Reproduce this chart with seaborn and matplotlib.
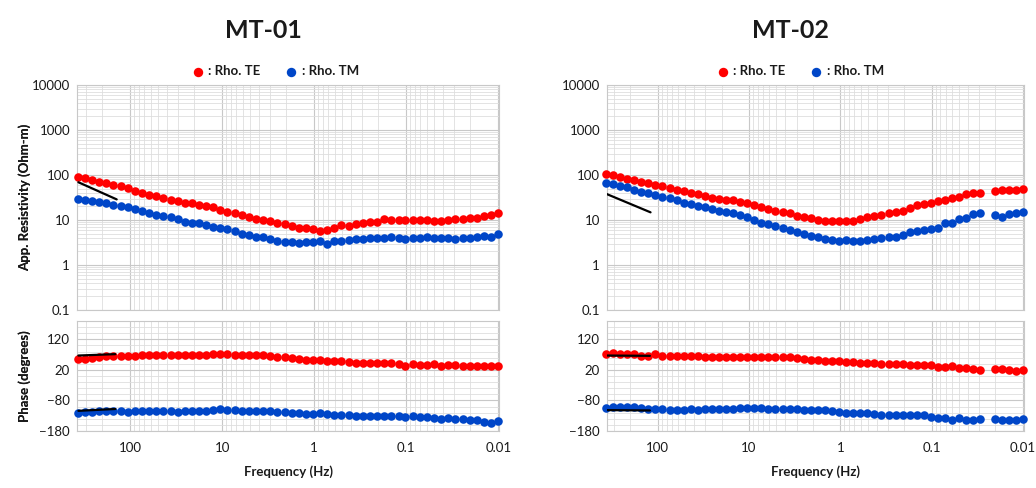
import numpy as np
import pandas as pd
import matplotlib
matplotlib.use("Agg")
import matplotlib.pyplot as plt
import seaborn as sns
from matplotlib.ticker import FixedLocator, LogLocator, NullFormatter, FuncFormatter, MultipleLocator

sns.set_theme(style="white")
plt.rcParams["font.family"] = ["Lato", "DejaVu Sans"]

nan = np.nan

# ---------------- data ----------------
FREQ = [370, 309, 259, 217, 181, 152, 127, 106, 88.8, 74.3,
        62.2, 52.0, 43.6, 36.4, 30.5, 25.5, 21.3, 17.9, 14.9, 12.5,
        10.5, 8.75, 7.32, 6.13, 5.13, 4.29, 3.59, 3.00, 2.51, 2.10,
        1.76, 1.47, 1.23, 1.03, 0.862, 0.722, 0.604, 0.505, 0.423, 0.354,
        0.296, 0.248, 0.207, 0.173, 0.145, 0.121, 0.102, 0.0850, 0.0711, 0.0595,
        0.0498, 0.0417, 0.0348, 0.0292, 0.0244, 0.0204, 0.0171, 0.0143, 0.0120, 0.0100]

TICK_FREQ = [100, 10, 1, 0.1, 0.01]
TICK_RHO = [0.1, 1, 10, 100, 1000, 10000]
TICK_PHASE = [-180, -80, 20, 120]

# MT-01
TE_RHO_1 = [89, 84, 77, 71, 66, 61, 57, 52, 45, 40,
            36, 33.5, 31, 28.5, 26, 24, 23.3, 21.8, 20.5, 19,
            17, 15.2, 14, 12.8, 11.8, 10.7, 10.2, 9.3, 8.6, 8.0,
            7.5, 6.8, 6.6, 6.3, 5.7, 6.1, 6.6, 7.6, 7.5, 8.0,
            8.7, 8.8, 8.9, 10.3, 9.9, 10.0, 9.8, 9.9, 10.1, 9.8,
            9.5, 9.4, 10.0, 10.4, 10.6, 10.8, 11.3, 12.0, 12.6, 14.5]
TM_RHO_1 = [30, 28.5, 27, 25, 23.5, 21.5, 20.3, 19.5, 17.8, 16,
            14.5, 12.8, 12.2, 11.4, 10.6, 9.2, 8.7, 8.4, 7.7, 7.0,
            6.7, 6.2, 5.6, 4.9, 4.6, 4.2, 4.1, 3.7, 3.5, 3.3,
            3.2, 3.1, 3.2, 3.3, 3.4, 3.0, 3.35, 3.4, 3.55, 3.7,
            3.7, 3.9, 4.0, 3.9, 4.2, 4.0, 3.7, 3.9, 3.9, 4.1,
            3.9, 3.9, 3.9, 3.7, 3.9, 4.0, 4.2, 4.4, 4.1, 5.0]
TE_PH_1 = [56, 57, 59.5, 62, 65, 65, 65, 65, 67, 68,
           69, 68, 68, 68, 68, 68, 68, 68, 68, 71.5,
           72.7, 71.5, 68, 69, 69, 68, 68, 65, 63, 63,
           59.5, 56, 54, 54, 54, 50.7, 48.5, 48.5, 46, 43,
           41, 43, 43, 41, 41, 40, 34, 40, 37.5, 37.5,
           40, 34, 37.5, 35, 32, 34, 32, 32, 32, 32]
TM_PH_1 = [-120, -119, -116.5, -114, -113, -113, -114, -116.5, -114, -113,
           -113, -113, -113, -115, -116.5, -113, -113, -113, -113, -111,
           -109, -111, -112, -113, -113, -113, -113, -114, -116.5, -119,
           -120, -122, -124, -124, -122, -125, -127.5, -127.5, -127.5, -130,
           -131, -131, -131, -131, -131, -131, -133, -131, -133, -135,
           -136, -141, -138.5, -141, -142, -144, -144, -149.5, -155, -147]
REF_F_RHO_1 = [365, 140]
REF_RHO_1 = [69, 28.7]
REF_F_PH_1 = [365, 145]
REF_TE_PH_1 = [67, 71.5]
REF_TM_PH_1 = [-114, -108]

# MT-02
TE_RHO_2 = [105, 100, 89, 81, 77, 71, 65, 60, 57, 51,
            46, 43, 39, 37, 35, 30.5, 29, 28, 28, 24.7,
            23.5, 21.5, 19.8, 17.5, 16.1, 14.8, 14.1, 12.5, 11.5, 10.9,
            10.2, 9.7, 9.5, 9.5, 9.5, 9.5, 10.4, 11.5, 12.3, 12.9,
            14.5, 15.3, 16.1, 18.2, 21.5, 22.3, 23.5, 26.4, 27.8, 30.3,
            33, 37, 39, 40.5, nan, 45, 46.4, 46.4, 46.4, 48]
TM_RHO_2 = [65, 62, 58, 53, 46.4, 42.6, 39, 36, 33, 30.3,
            27.8, 23.5, 22.3, 20.8, 19.8, 17.3, 15.8, 14.8, 14.1, 12.9,
            11.5, 10, 8.7, 8.0, 7.4, 6.5, 6.0, 5.5, 4.9, 4.4,
            4.1, 3.7, 3.6, 3.5, 3.6, 3.5, 3.5, 3.6, 3.7, 3.9,
            4.1, 4.1, 4.6, 5.5, 5.8, 6.0, 6.2, 6.5, 8.4, 8.7,
            10.3, 10.9, 13.4, 14.1, nan, 12.9, 11.9, 13.6, 14.5, 15.3]
TE_PH_2 = [72.3, 76.6, 72.3, 71.2, 72.3, 66.8, 66.8, 71.2, 66.8, 66.8,
           66.8, 66.8, 66.8, 66.8, 63.6, 63.6, 63.6, 63.6, 63.6, 63.6,
           63.6, 63.6, 63.6, 63.6, 63.6, 61.4, 61.4, 58.2, 56, 52.8,
           52.8, 50.6, 49.5, 49.5, 47.4, 45.2, 44.1, 44.1, 42, 38.7,
           38.7, 38.7, 38.7, 36.6, 36.6, 34.4, 34.4, 29, 29, 33.3,
           25.7, 25.7, 23.6, 20.3, nan, 23.6, 22.5, 20.3, 14.9, 18.2]
TM_PH_2 = [-104, -102, -102, -102, -102, -106, -109.5, -109.5, -109.5, -111.7,
           -111.7, -111.7, -109.5, -111.7, -109.5, -109.5, -109.5, -109.5, -109.5, -106.3,
           -106.3, -106.3, -106.3, -109.5, -109.5, -109.5, -109.5, -109.5, -111.7, -111.7,
           -111.7, -112.8, -115, -117.1, -120.3, -122.5, -122.5, -122.5, -125.8, -127.9,
           -127.9, -127.9, -127.9, -129, -129, -129, -133.3, -136.6, -138.7, -144.1,
           -138.7, -144.1, -144.1, -139.8, nan, -142, -145.2, -145.2, -144.1, -142]
REF_F_RHO_2 = [377, 120]
REF_RHO_2 = [39, 14.8]
REF_F_PH_2 = [361, 122]
REF_TE_PH_2 = [67, 66]
REF_TM_PH_2 = [-111.7, -112.8]

TITLES = ["MT-01", "MT-02"]
LEGEND_LABELS = [": Rho. TE", ": Rho. TM"]

# ---------------- style ----------------
RED = "#FF0000"
BLUE = "#0046C8"
GRID_MAJ = "#c8c8c8"
GRID_MIN = "#dedede"
TXT = "#1a1a1a"

W, H = 1036, 488
fig = plt.figure(figsize=(W / 100, H / 100), dpi=100)
fig.patch.set_facecolor("white")

panels = [
    dict(x0=77, x1=499, xlim=(378, 0.0098), title_x=263, leg_x=275,
         te_rho=TE_RHO_1, tm_rho=TM_RHO_1, te_ph=TE_PH_1, tm_ph=TM_PH_1,
         rf_rho=REF_F_RHO_1, r_rho=REF_RHO_1, rf_ph=REF_F_PH_1,
         r_te=REF_TE_PH_1, r_tm=REF_TM_PH_1),
    dict(x0=607, x1=1024, xlim=(360, 0.0097), title_x=790, leg_x=800,
         te_rho=TE_RHO_2, tm_rho=TM_RHO_2, te_ph=TE_PH_2, tm_ph=TM_PH_2,
         rf_rho=REF_F_RHO_2, r_rho=REF_RHO_2, rf_ph=REF_F_PH_2,
         r_te=REF_TE_PH_2, r_tm=REF_TM_PH_2),
]

RHO_TOP, RHO_BOT = 85, 310
PH_TOP, PH_BOT = 321, 431


def frac_rect(x0, x1, ytop, ybot):
    return [x0 / W, 1 - ybot / H, (x1 - x0) / W, (ybot - ytop) / H]


def style_axes(ax):
    ax.set_axisbelow(True)
    ax.grid(which="major", color=GRID_MAJ, lw=0.8)
    ax.grid(which="minor", color=GRID_MIN, lw=0.6)
    for sp in ax.spines.values():
        sp.set_color(GRID_MAJ)
        sp.set_linewidth(0.8)
    ax.tick_params(which="both", length=0, labelsize=9.5, labelcolor=TXT, pad=5)
    ax.set_facecolor("white")


for k, p in enumerate(panels):
    ax_r = fig.add_axes(frac_rect(p["x0"], p["x1"], RHO_TOP, RHO_BOT))
    ax_p = fig.add_axes(frac_rect(p["x0"], p["x1"], PH_TOP, PH_BOT))

    # resistivity
    df_r = pd.DataFrame({"freq": FREQ, "te": p["te_rho"], "tm": p["tm_rho"]})
    sns.scatterplot(data=df_r, x="freq", y="te", ax=ax_r, color=RED, s=38,
                    linewidth=0, clip_on=False, zorder=3, label=LEGEND_LABELS[0])
    sns.scatterplot(data=df_r, x="freq", y="tm", ax=ax_r, color=BLUE, s=38,
                    linewidth=0, clip_on=False, zorder=3, label=LEGEND_LABELS[1])
    ax_r.plot(p["rf_rho"], p["r_rho"], color="black", lw=1.6, zorder=4)

    ax_r.set_xscale("log")
    ax_r.set_yscale("log")
    ax_r.set_xlim(*p["xlim"])
    ax_r.set_ylim(0.1, 10000)
    ax_r.xaxis.set_major_locator(FixedLocator(TICK_FREQ))
    ax_r.xaxis.set_minor_locator(LogLocator(base=10, subs=range(2, 10), numticks=20))
    ax_r.xaxis.set_major_formatter(NullFormatter())
    ax_r.xaxis.set_minor_formatter(NullFormatter())
    ax_r.yaxis.set_major_locator(FixedLocator(TICK_RHO))
    ax_r.yaxis.set_minor_locator(LogLocator(base=10, subs=range(2, 10), numticks=20))
    ax_r.yaxis.set_major_formatter(FuncFormatter(lambda v, pos: f"{v:g}"))
    ax_r.yaxis.set_minor_formatter(NullFormatter())
    style_axes(ax_r)
    ax_r.set_xlabel("")
    ax_r.set_ylabel("App. Resistivity (Ohm-m)", fontsize=9.5, fontweight="bold", color=TXT)
    ax_r.yaxis.label.set_va("center")
    ax_r.yaxis.set_label_coords((25 - p["x0"]) / (p["x1"] - p["x0"]), 0.5)

    handles, labels = ax_r.get_legend_handles_labels()
    if ax_r.get_legend() is not None:
        ax_r.get_legend().remove()
    fig.legend(handles, labels, loc="center", bbox_to_anchor=(p["leg_x"] / W, 1 - 71 / H),
               ncol=2, frameon=False, prop={"weight": "bold", "size": 9.5},
               handletextpad=0.3, columnspacing=1.8, handlelength=1.0,
               markerscale=1.1, labelcolor=TXT)

    # phase
    df_p = pd.DataFrame({"freq": FREQ, "te": p["te_ph"], "tm": p["tm_ph"]})
    sns.scatterplot(data=df_p, x="freq", y="te", ax=ax_p, color=RED, s=38,
                    linewidth=0, clip_on=False, zorder=3)
    sns.scatterplot(data=df_p, x="freq", y="tm", ax=ax_p, color=BLUE, s=38,
                    linewidth=0, clip_on=False, zorder=3)
    ax_p.plot(p["rf_ph"], p["r_te"], color="black", lw=1.6, zorder=4)
    ax_p.plot(p["rf_ph"], p["r_tm"], color="black", lw=1.6, zorder=4)

    ax_p.set_xscale("log")
    ax_p.set_xlim(*p["xlim"])
    ax_p.set_ylim(-180, 180)
    ax_p.xaxis.set_major_locator(FixedLocator(TICK_FREQ))
    ax_p.xaxis.set_minor_locator(LogLocator(base=10, subs=range(2, 10), numticks=20))
    ax_p.xaxis.set_major_formatter(FuncFormatter(lambda v, pos: f"{v:g}"))
    ax_p.xaxis.set_minor_formatter(NullFormatter())
    ax_p.yaxis.set_major_locator(FixedLocator(TICK_PHASE))
    ax_p.yaxis.set_minor_locator(MultipleLocator(20))
    style_axes(ax_p)
    ax_p.tick_params(axis="x", pad=8)
    ax_p.set_xlabel("Frequency (Hz)", fontsize=9.5, fontweight="bold", color=TXT)
    ax_p.xaxis.label.set_va("center")
    ax_p.xaxis.set_label_coords(0.5, (PH_BOT - 472) / (PH_BOT - PH_TOP))
    ax_p.set_ylabel("Phase (degrees)", fontsize=9.5, fontweight="bold", color=TXT)
    ax_p.yaxis.label.set_va("center")
    ax_p.yaxis.set_label_coords((25 - p["x0"]) / (p["x1"] - p["x0"]), 0.5)

    fig.text(p["title_x"] / W, 1 - 30 / H, TITLES[k], ha="center", va="center",
             fontsize=18, fontweight="bold", color=TXT)

fig.savefig("out.png", dpi=100, facecolor="white")
